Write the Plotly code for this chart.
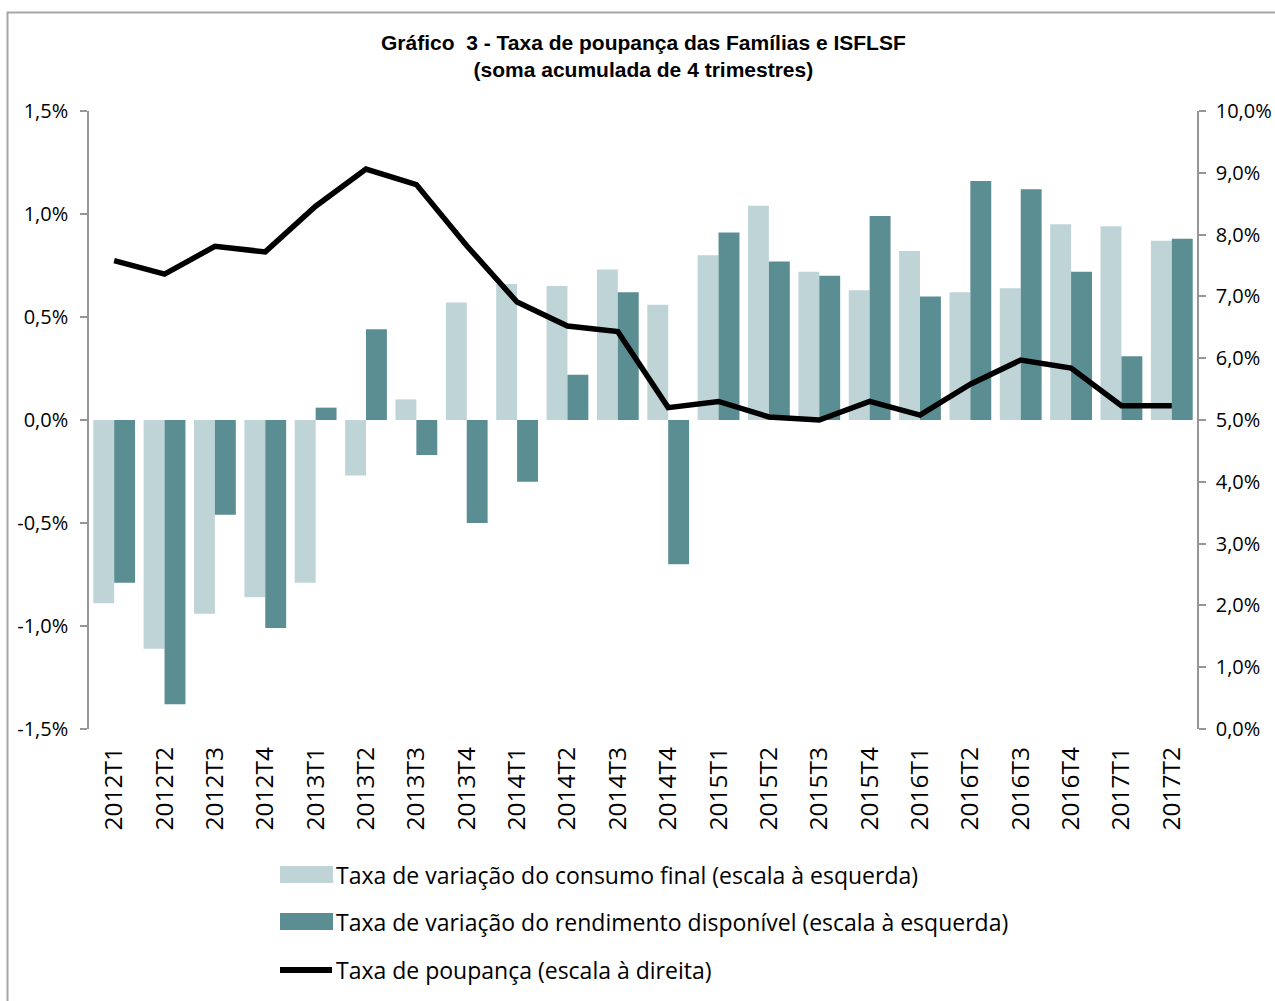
import plotly.graph_objects as go

# ---------------- data ----------------
categories = ["2012T1", "2012T2", "2012T3", "2012T4", "2013T1", "2013T2", "2013T3", "2013T4",
              "2014T1", "2014T2", "2014T3", "2014T4", "2015T1", "2015T2", "2015T3", "2015T4",
              "2016T1", "2016T2", "2016T3", "2016T4", "2017T1", "2017T2"]
consumo = [-0.89, -1.11, -0.94, -0.86, -0.79, -0.27, 0.10, 0.57, 0.66, 0.65, 0.73, 0.56,
           0.80, 1.04, 0.72, 0.63, 0.82, 0.62, 0.64, 0.95, 0.94, 0.87]
rendimento = [-0.79, -1.38, -0.46, -1.01, 0.06, 0.44, -0.17, -0.50, -0.30, 0.22, 0.62, -0.70,
              0.91, 0.77, 0.70, 0.99, 0.60, 1.16, 1.12, 0.72, 0.31, 0.88]
poupanca = [7.58, 7.36, 7.81, 7.72, 8.46, 9.06, 8.81, 7.82, 6.91, 6.52, 6.43, 5.20,
            5.30, 5.05, 5.00, 5.30, 5.08, 5.58, 5.97, 5.84, 5.23, 5.23]

left_vals = [-1.5, -1.0, -0.5, 0.0, 0.5, 1.0, 1.5]
left_text = ["-1,5%", "-1,0%", "-0,5%", "0,0%", "0,5%", "1,0%", "1,5%"]
right_vals = [0, 1, 2, 3, 4, 5, 6, 7, 8, 9, 10]
right_text = ["0,0%", "1,0%", "2,0%", "3,0%", "4,0%", "5,0%", "6,0%", "7,0%", "8,0%", "9,0%", "10,0%"]

names = ["Taxa de variação do consumo final (escala à esquerda)",
         "Taxa de variação do rendimento disponível (escala à esquerda)",
         "Taxa de poupança (escala à direita)"]
title_text = "Gráfico  3 - Taxa de poupança das Famílias e ISFLSF<br>(soma acumulada de 4 trimestres)"

LIGHT = "#BFD4D7"
DARK = "#5B8E93"
AXIS = "#969696"
FONT = "Open Sans"

# ---------------- layout geometry ----------------
W, H = 1275, 1001
L, R, T, B = 89, 78, 111, 272
PW, PH = W - L - R, H - T - B


def px_x(px):
    return (px - L) / PW


def px_y(py):
    return ((H - B) - py) / PH


fig = go.Figure()
fig.add_trace(go.Bar(x=categories, y=consumo, name=names[0], marker=dict(color=LIGHT, line=dict(width=0))))
fig.add_trace(go.Bar(x=categories, y=rendimento, name=names[1], marker=dict(color=DARK, line=dict(width=0))))
fig.add_trace(go.Scatter(x=categories, y=poupanca, name=names[2], mode="lines",
                         line=dict(color="black", width=5.5), yaxis="y2"))

n = len(categories)
boundaries = [i - 0.5 for i in range(n + 1)]

shapes = [
    # outer frame
    dict(type="rect", xref="paper", yref="paper", x0=px_x(7.5), y0=px_y(1030), x1=px_x(1300), y1=px_y(12.5),
         line=dict(color="#A6A6A6", width=2), layer="below"),
    # legend keys
    dict(type="rect", xref="paper", yref="paper", x0=px_x(280), x1=px_x(333), y0=px_y(883), y1=px_y(866),
         fillcolor=LIGHT, line=dict(width=0)),
    dict(type="rect", xref="paper", yref="paper", x0=px_x(280), x1=px_x(333), y0=px_y(930), y1=px_y(913),
         fillcolor=DARK, line=dict(width=0)),
    dict(type="line", xref="paper", yref="paper", x0=px_x(280), x1=px_x(332), y0=px_y(970), y1=px_y(970),
         line=dict(color="black", width=6)),
]

annotations = [
    dict(text=f"<b>{title_text}</b>", xref="paper", yref="paper", x=px_x(643), y=px_y(56),
         xanchor="center", yanchor="middle", showarrow=False,
         font=dict(family="Liberation Sans, Arial", size=21, color="black")),
]
for name, yy in zip(names, [875, 922, 970]):
    annotations.append(dict(text=name, xref="paper", yref="paper", x=px_x(334), y=px_y(yy),
                            xanchor="left", yanchor="middle", showarrow=False,
                            font=dict(family=FONT, size=23, color="black")))

fig.update_layout(
    width=W, height=H,
    margin=dict(l=L, r=R, t=T, b=B, autoexpand=False),
    paper_bgcolor="white", plot_bgcolor="white",
    showlegend=False,
    barmode="group", bargap=0.17, bargroupgap=0,
    font=dict(family=FONT, color="black"),
    xaxis=dict(type="category", categoryorder="array", categoryarray=categories,
               range=[-0.5, n - 0.5], tickangle=-90, ticks="", showline=False, showgrid=False,
               zeroline=False, tickfont=dict(size=24.5), ticklabelstandoff=12),
    xaxis2=dict(overlaying="x", anchor="free", position=0.5, range=[-0.5, n - 0.5],
                tickvals=boundaries, ticks="outside", ticklen=7, tickwidth=1.5, tickcolor=AXIS,
                showticklabels=False, showline=True, linecolor=AXIS, linewidth=1.5,
                showgrid=False, zeroline=False, side="bottom"),
    yaxis=dict(range=[-1.5, 1.5], tickvals=left_vals, ticktext=left_text, ticks="outside",
               ticklen=7, tickwidth=1.5, tickcolor=AXIS, showline=True, linecolor=AXIS, linewidth=1.5,
               showgrid=False, zeroline=False, tickfont=dict(size=20), ticklabelstandoff=8),
    yaxis2=dict(overlaying="y", side="right", range=[0, 10], tickvals=right_vals, ticktext=right_text,
                ticks="outside", ticklen=7, tickwidth=1.5, tickcolor=AXIS, showline=True, linecolor=AXIS,
                linewidth=1.5, showgrid=False, zeroline=False, tickfont=dict(size=20), ticklabelstandoff=6),
    shapes=shapes,
    annotations=annotations,
)

fig.write_html("out.html", config={"displayModeBar": False},
               post_script="document.body.style.margin='0';document.body.style.padding='0';"
                           "document.body.style.overflow='hidden';")
